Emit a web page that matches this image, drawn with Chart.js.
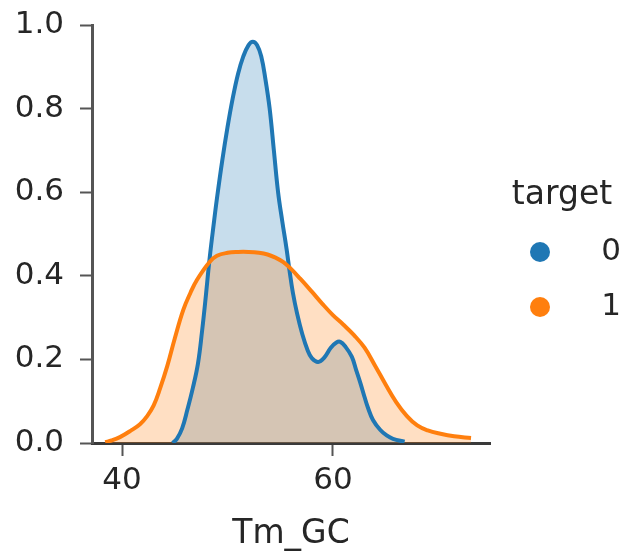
<!DOCTYPE html>
<html>
<head>
<meta charset="utf-8">
<script src="https://cdn.jsdelivr.net/npm/chart.js@4"></script>
<style>
html,body{margin:0;padding:0;background:#fff;}
#wrap{width:631px;height:558px;}
</style>
</head>
<body>
<div id="wrap"><canvas id="c" width="631" height="558"></canvas></div>
<script>
// ---- data ----
const xTickValues = [40, 60];
const yTickValues = [0, 0.2, 0.4, 0.6, 0.8, 1.0];
const legendTitle = "target";
const seriesNames = ["0", "1"];
const xLabel = "Tm_GC";

const blueX = [44.8,45.2,45.7,46.2,46.7,47.2,47.6,47.9,48.3,48.7,49.0,49.5,50.0,50.5,51.0,51.5,52.0,52.4,52.8,53.2,53.6,54.0,54.4,54.8,55.2,55.6,55.9,56.2,56.6,57.1,57.6,58.0,58.6,59.2,59.8,60.3,60.7,61.2,61.8,62.2,62.6,63.0,63.3,63.8,64.5,65.1,65.7,66.8];
const blueY = [0.0,0.01,0.035,0.08,0.13,0.19,0.27,0.34,0.44,0.525,0.585,0.675,0.755,0.825,0.883,0.925,0.952,0.96,0.952,0.925,0.87,0.8,0.7,0.6,0.53,0.465,0.41,0.36,0.31,0.26,0.222,0.203,0.194,0.205,0.228,0.24,0.242,0.23,0.206,0.175,0.144,0.11,0.086,0.055,0.031,0.018,0.01,0.003];

const orangeX = [38.4,39.0,39.8,40.8,41.7,42.4,43.0,43.6,44.3,45.0,45.8,46.5,47.1,48.3,49.0,50.0,51.0,52.0,53.0,53.8,54.5,55.3,56.0,56.9,58.0,59.0,60.0,61.0,62.0,63.0,64.0,65.0,66.0,67.0,68.0,69.0,70.2,71.5,73.1];
const orangeY = [0.002,0.006,0.014,0.029,0.045,0.065,0.09,0.13,0.185,0.25,0.318,0.36,0.39,0.433,0.448,0.455,0.457,0.457,0.455,0.451,0.444,0.433,0.417,0.393,0.362,0.333,0.306,0.283,0.258,0.228,0.185,0.14,0.098,0.065,0.042,0.03,0.022,0.016,0.012];

const xMin = 37.15, xMax = 74.9;

const toPts = (xs, ys) => xs.map((x, i) => ({x: x, y: ys[i]}));

const txt = '#262626';
const axisCol = '#3a3a3a';
const FONT = "'DejaVu Sans', sans-serif";

const legendPlugin = {
  id: 'sideLegend',
  afterDraw(chart) {
    const ctx = chart.ctx;
    ctx.save();
    ctx.fillStyle = txt;
    ctx.textBaseline = 'middle';
    ctx.textAlign = 'center';
    ctx.font = "33px " + FONT;
    ctx.fillText(legendTitle, 562, 195);
    const cols = ['#1f77b4', '#ff7f0e'];
    const ys = [252, 307];
    ctx.font = "31px " + FONT;
    seriesNames.forEach((n, i) => {
      ctx.beginPath();
      ctx.fillStyle = cols[i];
      ctx.arc(540, ys[i], 10, 0, Math.PI * 2);
      ctx.fill();
      ctx.fillStyle = txt;
      ctx.textAlign = 'center';
      ctx.fillText(n, 611, ys[i]);
    });
    ctx.restore();
  }
};

new Chart(document.getElementById('c'), {
  type: 'line',
  data: {
    datasets: [
      {
        label: seriesNames[0],
        data: toPts(blueX, blueY),
        borderColor: '#1f77b4',
        backgroundColor: 'rgba(31,119,180,0.25)',
        borderWidth: 4,
        pointRadius: 0,
        fill: 'origin',
        tension: 0.4,
        order: 1
      },
      {
        label: seriesNames[1],
        data: toPts(orangeX, orangeY),
        borderColor: '#ff7f0e',
        backgroundColor: 'rgba(255,127,14,0.25)',
        borderWidth: 4,
        pointRadius: 0,
        fill: 'origin',
        tension: 0.4,
        order: 0
      }
    ]
  },
  options: {
    responsive: false,
    animation: false,
    devicePixelRatio: 1,
    layout: { padding: { left: 0, right: 141, top: 25, bottom: 0 } },
    plugins: {
      legend: { display: false },
      tooltip: { enabled: false },
      filler: { drawTime: 'beforeDatasetsDraw' }
    },
    scales: {
      x: {
        type: 'linear',
        min: xMin, max: xMax,
        afterBuildTicks: (s) => { s.ticks = xTickValues.map(v => ({value: v})); },
        afterFit: (s) => { s.height = 558 - 443; s.paddingLeft = 0; s.paddingRight = 0; },
        grid: { display: true, drawOnChartArea: false, drawTicks: true, tickLength: 13, tickWidth: 2, tickColor: '#555' },
        border: { display: true, color: axisCol, width: 3 },
        ticks: { color: txt, font: { family: FONT, size: 31 }, padding: 6, maxRotation: 0, callback: (v) => String(v) },
        title: { display: true, text: xLabel, color: txt, font: { family: FONT, size: 33 }, padding: { top: 0, bottom: 4 } }
      },
      y: {
        min: 0, max: 1.0,
        afterBuildTicks: (s) => { s.ticks = yTickValues.map(v => ({value: v})); },
        afterFit: (s) => { s.width = 92; s.paddingTop = 0; s.paddingBottom = 0; },
        grid: { display: true, drawOnChartArea: false, drawTicks: true, tickLength: 12, tickWidth: 2, tickColor: '#555' },
        border: { display: true, color: '#555', width: 3 },
        ticks: { color: txt, font: { family: FONT, size: 31 }, padding: 16, callback: (v) => Number(v).toFixed(1) }
      }
    }
  },
  plugins: [legendPlugin]
});
</script>
</body>
</html>
